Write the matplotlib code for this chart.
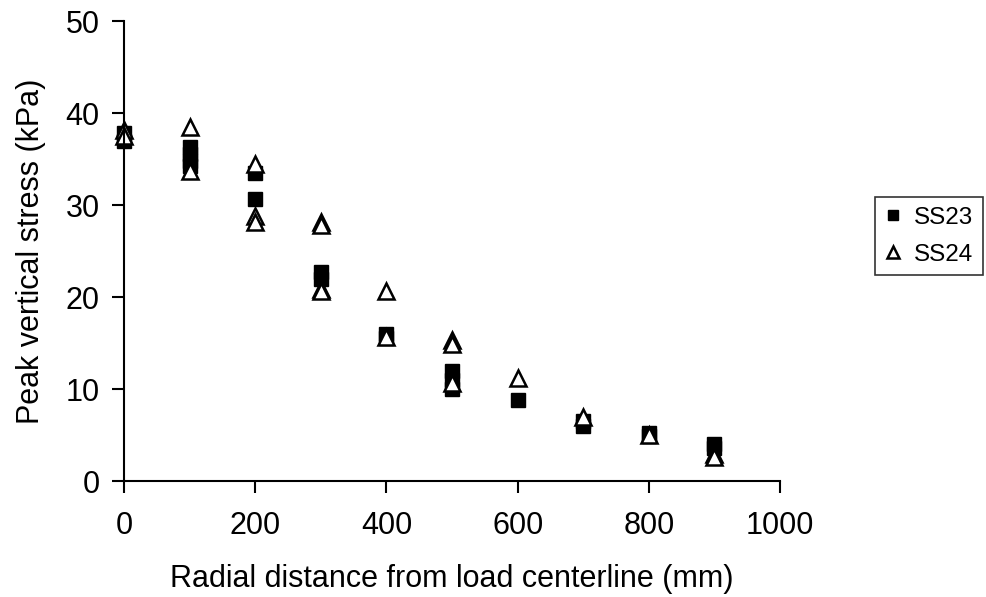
import matplotlib.pyplot as plt

plt.rcParams['font.family'] = ['Liberation Sans', 'DejaVu Sans']

# SS23 measurements (radial distance mm, peak vertical stress kPa)
ss23_x = [0, 0, 100, 100, 100, 100, 200, 200, 300, 300, 400, 400,
          500, 500, 500, 600, 700, 700, 800, 800, 900, 900]
ss23_y = [37.0, 37.8, 36.3, 35.5, 34.8, 34.2, 33.5, 30.7, 22.7, 22.0, 16.0, 15.5,
          12.0, 11.0, 10.0, 8.8, 6.5, 6.0, 5.2, 4.9, 4.0, 3.6]

# SS24 measurements
ss24_x = [0, 0, 100, 100, 200, 200, 200, 300, 300, 300, 300, 400, 400,
          500, 500, 500, 600, 700, 800, 900, 900]
ss24_y = [38.2, 37.5, 38.5, 33.7, 34.5, 28.8, 28.2, 28.2, 27.8, 20.9, 20.6, 20.7, 15.6,
          15.3, 14.9, 10.7, 11.2, 7.0, 5.0, 2.9, 2.6]

fig = plt.figure(figsize=(9.86, 5.97), dpi=100)
ax = fig.add_axes([0.1258, 0.1943, 0.6653, 0.7705])

ax.plot(ss23_x, ss23_y, linestyle='none', marker='s', markersize=10,
        color='black', label='SS23', clip_on=False)
ax.plot(ss24_x, ss24_y, linestyle='none', marker='^', markersize=11,
        markerfacecolor='white', markeredgecolor='black', markeredgewidth=1.8,
        label='SS24', clip_on=False)

ax.set_xlim(0, 1000)
ax.set_ylim(0, 50)
ax.set_xticks(range(0, 1001, 200))
ax.set_yticks(range(0, 51, 10))
ax.spines['top'].set_visible(False)
ax.spines['right'].set_visible(False)
ax.spines['left'].set_linewidth(1.5)
ax.spines['bottom'].set_linewidth(1.5)
ax.tick_params(direction='out', length=8.5, width=1.5, labelsize=22)
ax.tick_params(axis='y', pad=9)
ax.tick_params(axis='x', pad=13)

ax.set_xlabel('Radial distance from load centerline (mm)', fontsize=22, labelpad=17)
ax.set_ylabel('Peak vertical stress (kPa)', fontsize=22, labelpad=14)

leg = ax.legend(loc='upper left', bbox_to_anchor=(1.145, 0.617), fontsize=17.5,
                frameon=True, fancybox=False, edgecolor='black', markerscale=0.75,
                handlelength=0.7, handletextpad=0.5, borderpad=0.4,
                borderaxespad=0, labelspacing=0.6)
leg.get_frame().set_linewidth(1.2)

plt.savefig('out.png', dpi=100)
